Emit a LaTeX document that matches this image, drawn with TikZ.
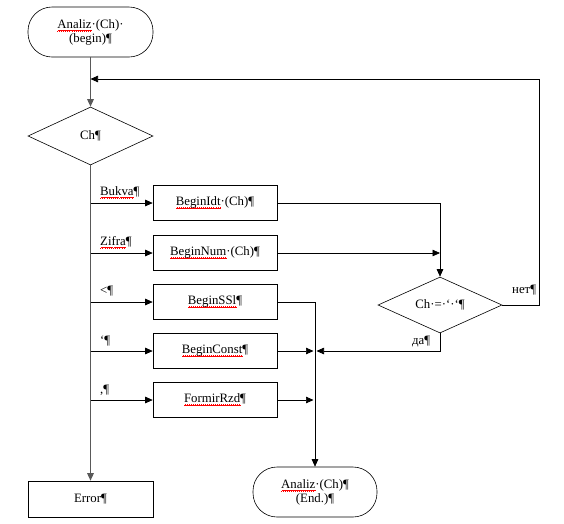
\documentclass[tikz,border=0pt]{standalone}
\usepackage{fontspec}
\setmainfont{Liberation Serif}
\usetikzlibrary{shapes.geometric,arrows.meta}
\newsavebox{\rwbox}
\newcommand\rw[1]{\sbox{\rwbox}{#1}\rlap{\color{red}\hbox to \wd\rwbox{\xleaders\hbox{\rule[-3.2pt]{0.5pt}{0.6pt}\rule[-2.7pt]{0.5pt}{0.6pt}\rule[-2.2pt]{0.5pt}{0.6pt}\rule[-2.7pt]{0.5pt}{0.6pt}}\hfill}}\usebox{\rwbox}}
\begin{document}
\begin{tikzpicture}[x=1pt,y=-1pt,
  font=\fontsize{12.8}{14}\selectfont,
  term/.style={draw, line width=0.6pt, rounded corners=24pt, minimum width=125pt, minimum height=50pt, inner sep=0pt, align=center},
  proc/.style={draw, line width=0.6pt, minimum width=124pt, minimum height=35pt, inner sep=0pt},
  dec/.style={draw, line width=0.6pt, diamond, aspect=2.1, minimum width=125pt, minimum height=58pt, inner sep=0pt},
  lab/.style={anchor=base west, inner sep=0pt},
  flow/.style={line width=0.7pt, -{Triangle[length=7.5pt,width=6.5pt]}},
  mainline/.style={flow, draw=gray!70!black, line width=1.3pt}]
\useasboundingbox (0,0) rectangle (564,523);

\node[term] (start) at (90.5,32) {\rw{Analiz}·(Ch)·\\(begin)¶};
\node[dec] (d1) at (90.5,136) {Ch¶};
\node[proc] (b1) at (215,203) {\rw{BeginIdt}·(Ch)¶};
\node[proc] (b2) at (215,253) {\rw{BeginNum}·(Ch)¶};
\node[proc] (b3) at (215,302) {\rw{BeginSSl}¶};
\node[proc] (b4) at (215,351) {\rw{BeginConst}¶};
\node[proc] (b5) at (215,400) {\rw{FormirRzd}¶};
\node[proc, minimum width=125pt, minimum height=36pt] (err) at (90.5,499) {Error¶};
\node[dec, minimum width=124pt, minimum height=56pt] (d2) at (440,305) {Ch·=·‘·‘¶};
\node[term, minimum width=124pt] (end) at (315,492) {\rw{Analiz}·(Ch)¶\\(End.)¶};

\node[lab] (lb1) at (100,195) {\rw{Bukva}¶};
\node[lab] (lb2) at (100,245) {\rw{Zifra}¶};
\node[lab] (lb3) at (100,294) {<¶};
\node[lab] (lb4) at (100,344) {‘¶};
\node[lab] (lb5) at (100,393) {,¶};
\node[lab] (no) at (512,293) {нет¶};
\node[lab] (yes) at (412,344) {да¶};

\coordinate (j1) at (90.5,79);
\coordinate (r1) at (539,79);
\coordinate (j2) at (316.5,351);

\draw[mainline] (start.south) -- (d1.north);
\draw[mainline] (d1.south) -- (err.north);
\foreach \b in {b1,b2,b3,b4,b5}
  \draw[flow] (d1.south |- \b.west) -- (\b.west);
\draw[flow] (b1.east) -| (d2.north);
\draw[flow] (b2.east) -- (d2.north |- b2.east);
\draw[flow] (d2.east) -| (r1) -- (j1);
\draw[flow] (d2.south) |- (j2);
\draw[flow] (b3.east) -| (end.north);
\draw[flow] (b4.east) -- ([xshift=-1.5pt]end.north |- b4.east);
\draw[flow] (b5.east) -- ([xshift=-1.5pt]end.north |- b5.east);
\end{tikzpicture}
\end{document}
